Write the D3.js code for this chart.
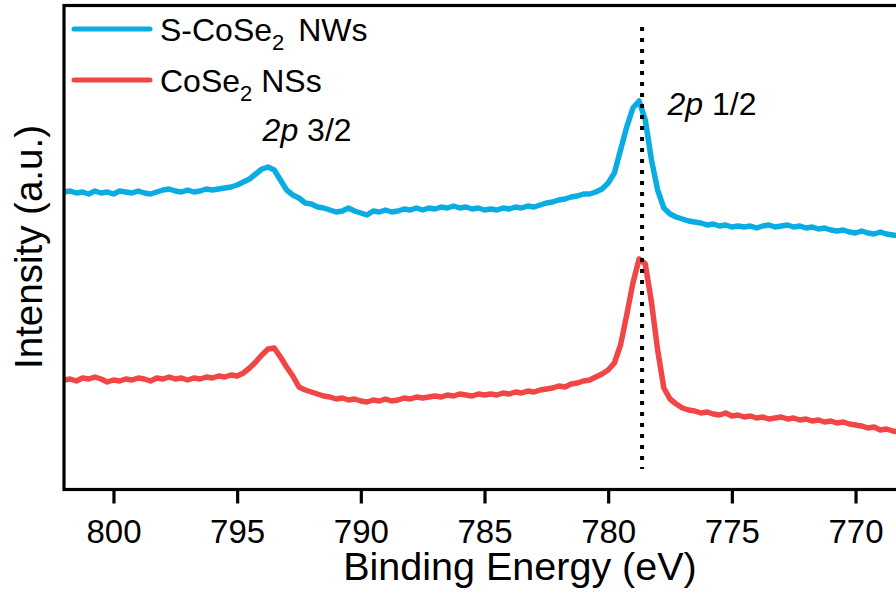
<!DOCTYPE html>
<html lang="en">
<head>
<meta charset="utf-8">
<title>Co 2p XPS</title>
<script src="https://d3js.org/d3.v7.min.js"></script>
<style>
  body { margin: 0; background: #fff; }
  text { font-family: 'Liberation Sans', Arial, sans-serif; fill: #000; }
</style>
</head>
<body>
<svg width="896" height="594"></svg>
<script>
// binding energy sampling: 0.25 eV steps, 802 eV down to 768 eV
var eStart = 802, eStep = 0.25, nPts = 137;
var energy = d3.range(nPts).map(function(k) { return eStart - eStep * k; });

// S-CoSe2 NWs (counts, a.u.)
var nwValues = [
  297,298,296,297,295,298,296,297,295,298,
  297,296,298,296,295,297,299,300,298,297,
  299,297,298,300,299,300,301,302,304,307,
  310,315,320,322,319,309,299,294,291,286,
  285,282,281,279,277,278,281,278,276,274,
  278,277,279,277,278,280,279,281,279,281,
  280,282,281,283,281,282,280,281,279,280,
  279,281,280,282,281,283,282,284,286,287,
  289,290,292,293,295,295,297,300,306,316,
  339,362,381,388,369,329,299,281,275,272,
  270,268,267,266,264,265,263,264,262,263,
  262,263,261,263,264,262,263,264,262,263,
  261,262,260,261,259,258,259,257,256,258,
  256,255,257,255,254,253,252
];

// CoSe2 NSs (counts, a.u.)
var nsValues = [
  109,110,108,111,110,112,110,107,109,108,
  110,109,111,110,108,111,110,112,110,111,
  109,111,110,112,111,113,112,114,113,116,
  121,127,134,140,141,132,122,113,102,99,
  97,95,93,92,90,91,89,90,88,87,
  89,88,90,88,89,91,90,92,91,92,
  93,92,94,93,95,94,93,95,94,95,
  94,96,95,97,96,98,97,99,100,101,
  103,102,105,106,108,109,112,115,119,126,
  144,174,206,230,225,187,139,101,90,85,
  81,79,78,76,77,75,74,76,73,74,
  72,73,71,72,70,71,72,70,71,69,
  70,68,69,67,68,66,67,65,64,63,
  61,62,59,60,58,57,56
];

var seriesNames = ["S-CoSe|2| NWs", "CoSe|2| NSs"];
var seriesColors = ["#0aade3", "#f24545"];
var xTicks = [800, 795, 790, 785, 780, 775, 770];
var peakLine = 778.63;
var peakLabels = [
  {e: 793.97, v: 348, main: "2p", rest: " 3/2"},
  {e: 777.6, v: 374, main: "2p", rest: " 1/2"}
];

var svg = d3.select("svg"),
    margin = {top: 5.5, left: 64, bottom: 489.5, right: 905};

var x = d3.scaleLinear().domain([802, 768]).range([margin.left, margin.right]);
var y = d3.scaleLinear().domain([0, 484]).range([489, 5]);

var series = [nwValues, nsValues];

var line = d3.line()
    .x(function(d, i) { return x(energy[i]); })
    .y(function(d) { return y(d); });

// curves
svg.selectAll(".curve")
    .data(series)
    .enter().append("path")
    .attr("class", "curve")
    .attr("d", line)
    .attr("fill", "none")
    .attr("stroke", function(d, i) { return seriesColors[i]; })
    .attr("stroke-width", 5.5)
    .attr("stroke-linejoin", "round");

// dotted marker line
svg.append("line")
    .attr("x1", x(peakLine)).attr("x2", x(peakLine))
    .attr("y1", 27).attr("y2", 469)
    .attr("stroke", "#000")
    .attr("stroke-width", 4)
    .attr("stroke-dasharray", "4,7");

// frame
svg.append("rect")
    .attr("x", margin.left).attr("y", margin.top)
    .attr("width", margin.right - margin.left)
    .attr("height", margin.bottom - margin.top)
    .attr("fill", "none")
    .attr("stroke", "#000")
    .attr("stroke-width", 3.2);

// x axis
var xAxis = svg.append("g")
    .attr("transform", "translate(0," + margin.bottom + ")")
    .call(d3.axisBottom(x).tickValues(xTicks).tickSize(14).tickPadding(16).tickFormat(d3.format("d")));
xAxis.select(".domain").remove();
xAxis.selectAll(".tick line").attr("stroke", "#000").attr("stroke-width", 3.2);
xAxis.selectAll(".tick text")
    .attr("fill", "#000")
    .style("font-size", "33px")
    .style("font-family", "'Liberation Sans', Arial, sans-serif");

svg.append("text")
    .attr("x", 520).attr("y", 580)
    .attr("text-anchor", "middle")
    .style("font-size", "39.5px")
    .text("Binding Energy (eV)");

svg.append("text")
    .attr("transform", "translate(42,247) rotate(-90)")
    .attr("text-anchor", "middle")
    .style("font-size", "38.5px")
    .text("Intensity (a.u.)");

// legend
var legend = svg.selectAll(".legend")
    .data(seriesNames)
    .enter().append("g")
    .attr("class", "legend")
    .attr("transform", function(d, i) { return "translate(0," + (29 + i * 51) + ")"; });

legend.append("line")
    .attr("x1", 74).attr("x2", 150)
    .attr("stroke", function(d, i) { return seriesColors[i]; })
    .attr("stroke-width", 5)
    .attr("stroke-linecap", "round");

legend.each(function(d, i) {
  var parts = d.split("|");
  var t = d3.select(this).append("text")
      .attr("x", 160).attr("y", 11.5)
      .style("font-size", "32px");
  t.append("tspan").text(parts[0]);
  t.append("tspan").attr("dy", 9).style("font-size", "22px").text(parts[1]);
  t.append("tspan").attr("dy", -9).attr("dx", i === 0 ? 5 : 0).text(parts[2]);
});

// peak labels
peakLabels.forEach(function(p) {
  var t = svg.append("text")
      .attr("x", x(p.e)).attr("y", y(p.v))
      .style("font-size", "32px");
  t.append("tspan").style("font-style", "italic").text(p.main);
  t.append("tspan").text(p.rest);
});
</script>
</body>
</html>
